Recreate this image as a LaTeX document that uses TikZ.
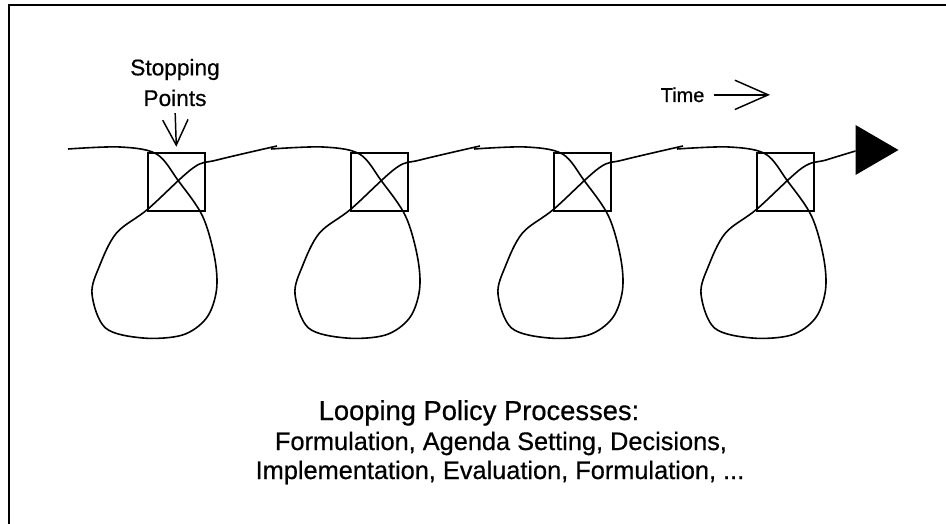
\documentclass[tikz,border=0pt]{standalone}
\usepackage{fontspec}
\setmainfont{Liberation Sans}[FakeBold=0.6]
\usetikzlibrary{arrows.meta}

\begin{document}
\begin{tikzpicture}[x=0.75pt,y=0.75pt,yscale=-1,xscale=1,
  stopbox/.style={draw,line width=1.4pt,minimum width=42.75pt,minimum height=43.5pt,inner sep=0pt},
  loopline/.style={line width=1.2pt},
  barb/.style={line width=1.1pt,-{Straight Barb[length=#1,width=#1]}},
  labeltext/.style={font=\fontsize{17}{23}\selectfont,inner sep=1pt},
  headtext/.style={font=\fontsize{20.5}{24}\selectfont,inner sep=0pt,anchor=base},
  listtext/.style={font=\fontsize{19}{23}\selectfont,inner sep=0pt,anchor=base}]
\useasboundingbox (0,0) rectangle (946,524);

%Frame (top and left only)
\draw [line width=1.5pt] (8.5,524) -- (8.5,5) -- (946,5) ;

%Stopping points
\foreach \i in {1,...,4}
  \node [stopbox] (box\i) at ({176.5+203*(\i-1)},182) {};

%Looping curve, one loop per box
\foreach \i/\ex/\ey in {1/100.5/-36,2/100.5/-36,3/100.5/-36,4/70/-31}
  \draw [loopline,shift={(box\i.center)}] plot [smooth,tension=0.55] coordinates {(-108.5,-33) (-56.5,-35) (-20,-28) (2,-1) (26,34) (38,75) (40,108) (30,136) (6,153) (-33.5,156) (-71,146) (-84.5,112) (-77,84) (-60,51) (-28.5,27) (16.5,-14) (40.5,-22) (\ex,\ey)};

%Arrow head at the end
\fill (box4.center) ++(70,-57) -- ++(43,25) -- ++(-43,25) -- cycle ;

%Labels
\node [labeltext,align=center,anchor=base] (stop) at (175,106) {Stopping\\Points};
\draw [barb=19pt,shorten <=4pt,shorten >=4pt] (stop.south) -- (box1.north) ;

\node [labeltext,font=\fontsize{15}{18}\selectfont,anchor=base east] (time) at (706,102) {Time};
\coordinate (timeend) at (770,97);
\draw [line width=1.1pt,-{Straight Barb[length=25pt,width=22pt]},shorten <=6pt] (time.east) -- (time.east -| timeend) ;

%Caption
\node [headtext] (title) at (479,420) {Looping Policy Processes:};
\node [listtext] (list1) at (501,450) {Formulation, Agenda Setting, Decisions,};
\node [listtext] (list2) at (500,479) {Implementation, Evaluation, Formulation, ...};

\end{tikzpicture}
\end{document}
